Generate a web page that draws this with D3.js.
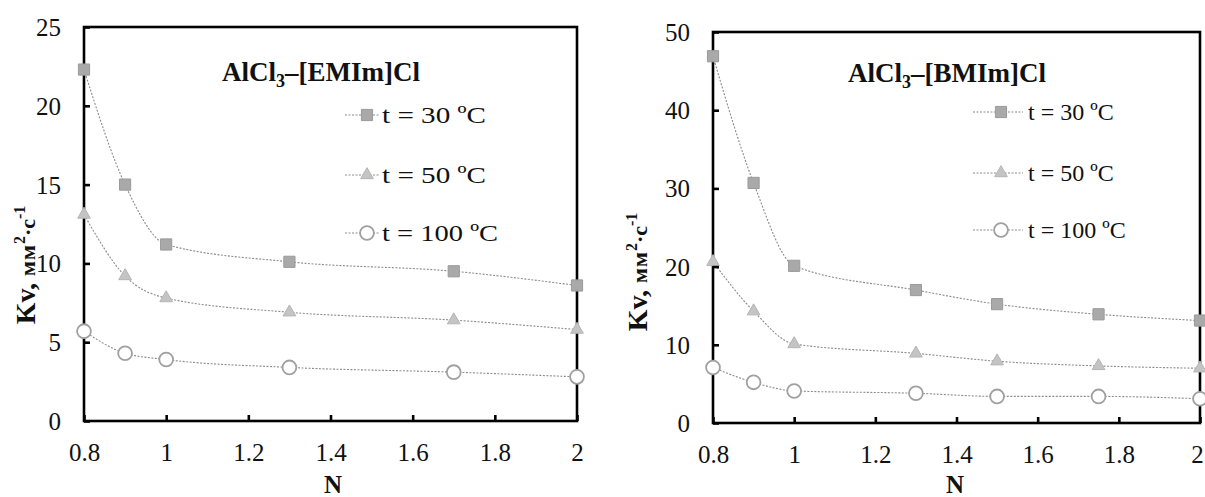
<!DOCTYPE html>
<html lang="ru">
<head>
<meta charset="UTF-8">
<script src="https://cdn.jsdelivr.net/npm/d3@7"></script>
<style>
  * { margin: 0; padding: 0; }
  body { background: #fff; font-family: "Liberation Serif", "DejaVu Serif", serif; }
  svg { display: block; }
  svg text { font-family: "Liberation Serif", "DejaVu Serif", serif; }
</style>
</head>
<body>
<div id="chart"></div>
<script>
// data
var xLeft = [0.8, 0.9, 1, 1.3, 1.7, 2];
var left30 = [22.3, 15.0, 11.2, 10.1, 9.5, 8.6];
var left50 = [13.1, 9.2, 7.8, 6.9, 6.4, 5.8];
var left100 = [5.7, 4.3, 3.9, 3.4, 3.1, 2.8];

var xRight = [0.8, 0.9, 1, 1.3, 1.5, 1.75, 2];
var right30 = [46.9, 30.7, 20.1, 17.0, 15.2, 13.9, 13.1];
var right50 = [20.6, 14.3, 10.1, 8.9, 7.9, 7.3, 7.0];
var right100 = [7.1, 5.2, 4.1, 3.8, 3.4, 3.4, 3.1];

var xTicks = [0.8, 1, 1.2, 1.4, 1.6, 1.8, 2];
var leftYTicks = [0, 5, 10, 15, 20, 25];
var rightYTicks = [0, 10, 20, 30, 40, 50];
var seriesNames = ["t = 30 \u00BAC", "t = 50 \u00BAC", "t = 100 \u00BAC"];

var W = 1205, H = 497;
var svg = d3.select("#chart").append("svg").attr("width", W).attr("height", H);

var panels = [
  { x: xLeft, ys: [left30, left50, left100], yTicks: leftYTicks, yMax: 25,
    box: [84, 27, 577, 421], sys: "EMIm", titleX: 222, titleY: 81,
    leg: { x0: 345, x1: 380, mx: 367, tx: 382, ys: [115, 175, 233], tl: [104, 104, 116] },
    ylab: [35, 265], nX: 333 },
  { x: xRight, ys: [right30, right50, right100], yTicks: rightYTicks, yMax: 50,
    box: [713, 32, 1200, 423], sys: "BMIm", titleX: 848, titleY: 82,
    leg: { x0: 973, x1: 1023, mx: 1001, tx: 1028, ys: [112, 173, 230], tl: [null, null, null] },
    ylab: [647, 272], nX: 955 }
];

var markers = [
  { type: d3.symbolSquare, size: 125, fill: "#a9a9a9", stroke: "#9a9a9a" },
  { type: d3.symbolTriangle, size: 70, fill: "#c4c4c4", stroke: "#b5b5b5" },
  { type: d3.symbolCircle, size: 150, fill: "#fff", stroke: "#a0a0a0" }
];

panels.forEach(function(p) {
  var b = p.box;
  var xScale = d3.scaleLinear().domain([0.8, 2]).range([b[0], b[2]]);
  var yScale = d3.scaleLinear().domain([0, p.yMax]).range([b[3], b[1]]);
  var g = svg.append("g");

  // series lines
  var line = d3.line()
    .x(function(d) { return xScale(d[0]); })
    .y(function(d) { return yScale(d[1]); })
    .curve(d3.curveMonotoneX);

  p.ys.forEach(function(vals, si) {
    var pts = p.x.map(function(xv, i) { return [xv, vals[i]]; });
    g.append("path")
      .attr("d", line(pts))
      .attr("fill", "none")
      .attr("stroke", "#8c8c8c")
      .attr("stroke-width", 1.1)
      .attr("stroke-dasharray", "2,1.5");
  });

  // frame
  g.append("rect")
    .attr("x", b[0]).attr("y", b[1])
    .attr("width", b[2] - b[0]).attr("height", b[3] - b[1])
    .attr("fill", "none").attr("stroke", "#000").attr("stroke-width", 2.6);

  // markers on top
  p.ys.forEach(function(vals, si) {
    var m = markers[si];
    g.selectAll(null)
      .data(p.x.map(function(xv, i) { return [xv, vals[i]]; }))
      .enter().append("path")
      .attr("d", d3.symbol().type(m.type).size(m.size))
      .attr("transform", function(d) { return "translate(" + xScale(d[0]) + "," + yScale(d[1]) + ")"; })
      .attr("fill", m.fill)
      .attr("stroke", m.stroke)
      .attr("stroke-width", si == 2 ? 1.8 : 1);
  });

  // axes, ticks inside
  var xAxis = d3.axisBottom(xScale).tickValues(xTicks)
    .tickFormat(d3.format("~g")).tickSizeInner(-6).tickSizeOuter(0).tickPadding(22);
  var yAxis = d3.axisLeft(yScale).tickValues(p.yTicks)
    .tickSizeInner(-6).tickSizeOuter(0).tickPadding(23);

  var gx = g.append("g").attr("transform", "translate(0," + b[3] + ")").call(xAxis);
  var gy = g.append("g").attr("transform", "translate(" + b[0] + ",0)").call(yAxis);
  [gx, gy].forEach(function(a) {
    a.attr("font-family", null);
    a.select(".domain").remove();
    a.selectAll("line").attr("stroke", "#000").attr("stroke-width", 2.6);
    a.selectAll("text").attr("font-size", 25).attr("fill", "#111");
  });
  gy.selectAll("text").attr("dy", "0.34em");
  // keep the last label inside the page
  gx.selectAll("text").filter(function(d) { return d == 2; })
    .attr("dx", b[2] + 7 > W ? -3 : 0);

  // title
  var t = g.append("text")
    .attr("x", p.titleX).attr("y", p.titleY)
    .attr("font-size", 27).attr("font-weight", "bold").attr("fill", "#111");
  t.append("tspan").text("AlCl");
  t.append("tspan").attr("font-size", 18).attr("dy", 6).text("3");
  t.append("tspan").attr("dy", -6).text("\u2013[" + p.sys + "]Cl");

  // legend
  p.ys.forEach(function(vals, si) {
    var m = markers[si], ly = p.leg.ys[si];
    g.append("line")
      .attr("x1", p.leg.x0).attr("x2", p.leg.x1).attr("y1", ly).attr("y2", ly)
      .attr("stroke", "#8c8c8c").attr("stroke-width", 1.1).attr("stroke-dasharray", "2,1.5");
    g.append("path")
      .attr("d", d3.symbol().type(m.type).size(m.size))
      .attr("transform", "translate(" + p.leg.mx + "," + ly + ")")
      .attr("fill", m.fill).attr("stroke", m.stroke).attr("stroke-width", si == 2 ? 1.8 : 1);
    var lt = g.append("text")
      .attr("x", p.leg.tx).attr("y", ly + 8)
      .attr("font-size", 24).attr("fill", "#111")
      .text(seriesNames[si]);
    if (p.leg.tl[si]) lt.attr("textLength", p.leg.tl[si]).attr("lengthAdjust", "spacingAndGlyphs");
  });

  // y label
  var yl = g.append("text")
    .attr("transform", "translate(" + p.ylab[0] + "," + p.ylab[1] + ") rotate(-90)")
    .attr("text-anchor", "middle")
    .attr("font-weight", "bold").attr("fill", "#111").attr("font-size", 28);
  yl.append("tspan").text("Kv, ");
  yl.append("tspan").attr("font-size", 22).attr("letter-spacing", 1).text("\u043C\u043C");
  yl.append("tspan").attr("font-size", 16).attr("dy", -10).text("2");
  yl.append("tspan").attr("font-size", 22).attr("dy", 10).text("\u00B7\u0441");
  yl.append("tspan").attr("font-size", 16).attr("dy", -10).text("-1");

  // x label
  g.append("text")
    .attr("x", p.nX).attr("y", 493)
    .attr("text-anchor", "middle")
    .attr("font-size", 25).attr("font-weight", "bold").attr("fill", "#111")
    .text("N");
});
</script>
</body>
</html>
